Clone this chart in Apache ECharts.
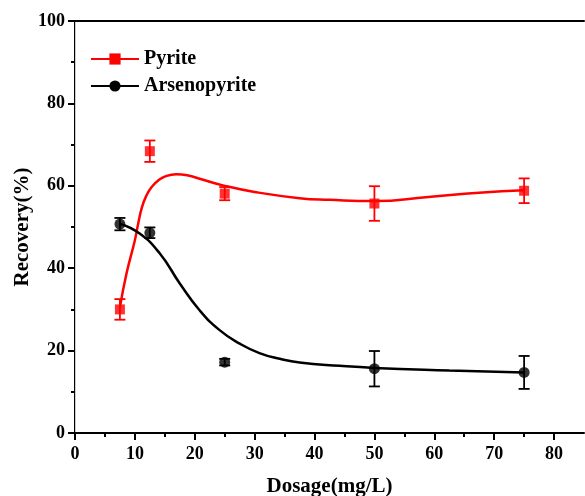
<!DOCTYPE html>
<html>
<head>
<meta charset="utf-8">
<script src="https://cdn.jsdelivr.net/npm/echarts@6/dist/echarts.min.js"></script>
<style>
  html, body { margin: 0; padding: 0; background: #fff; }
  #chart { width: 585px; height: 496px; }
</style>
</head>
<body>
<div id="chart"></div>
<script>
// measured points
const dosage = [7.5, 12.5, 25, 50, 75];
const pyrite = [30.0, 68.4, 58.1, 55.7, 58.8];
const pyriteErr = [2.5, 2.6, 1.6, 4.2, 3.0];
const arseno = [50.7, 48.6, 17.2, 15.6, 14.7];
const arsenoErr = [1.5, 1.3, 0.8, 4.3, 4.0];

// fitted curves
const pyriteFitX = [7.5, 8.6, 10.0, 10.55, 11.2, 11.95, 12.8, 13.9, 15.3, 16.9, 18.9, 20.8, 24.7, 30, 37.5, 42.5, 50, 59, 67.5, 75];
const pyriteFitY = [30.5, 38.7, 46.8, 50.8, 54.9, 57.7, 59.7, 61.3, 62.4, 62.8, 62.5, 61.7, 60.1, 58.5, 57.0, 56.6, 56.3, 57.3, 58.3, 58.9];
const arsenoFitX = [7.5, 10.8, 14.2, 17.5, 20.8, 24.2, 27.5, 30.8, 34.2, 37.5, 44.2, 50, 62.5, 75];
const arsenoFitY = [50.8, 48.4, 43.5, 36.3, 29.8, 24.9, 21.7, 19.4, 18.0, 17.1, 16.3, 15.8, 15.2, 14.7];

// axis ticks
const xMajor = [0, 10, 20, 30, 40, 50, 60, 70, 80];
const xMinor = [5, 15, 25, 35, 45, 55, 65, 75];

const font = 'Liberation Serif';

const pairs = (xs, ys) => xs.map((x, i) => [x, ys[i]]);
const errData = (vals, errs) => dosage.map((x, i) => [x, vals[i] - errs[i], vals[i] + errs[i]]);

const errorBars = (color) => (params, api) => {
  const x = api.value(0);
  const lo = api.coord([x, api.value(1)]);
  const hi = api.coord([x, api.value(2)]);
  const w = 5.5;
  const style = { stroke: color, lineWidth: 1.8 };
  return {
    type: 'group',
    children: [
      { type: 'line', shape: { x1: lo[0], y1: lo[1], x2: hi[0], y2: hi[1] }, style: style },
      { type: 'line', shape: { x1: hi[0] - w, y1: hi[1], x2: hi[0] + w, y2: hi[1] }, style: style },
      { type: 'line', shape: { x1: lo[0] - w, y1: lo[1], x2: lo[0] + w, y2: lo[1] }, style: style }
    ]
  };
};

const myChart = echarts.init(document.getElementById('chart'));

const option = {
  animation: false,
  grid: { left: 75, right: 1, top: 21, bottom: 63, outerBoundsMode: 'none' },
  legend: {
    data: ['Pyrite', 'Arsenopyrite'],
    orient: 'vertical',
    left: 90,
    top: 49,
    padding: 0,
    itemWidth: 48,
    itemHeight: 14,
    itemGap: 7,
    textStyle: { fontFamily: font, fontWeight: 'bold', fontSize: 20, color: '#000' }
  },
  xAxis: [
    {
      type: 'value', min: 0, max: 85, position: 'bottom',
      name: 'Dosage(mg/L)', nameLocation: 'middle', nameGap: 43, nameMoveOverlap: false,
      nameTextStyle: { fontFamily: font, fontWeight: 'bold', fontSize: 21, color: '#000' },
      axisLine: { lineStyle: { color: '#000', width: 2 } },
      axisTick: { customValues: xMajor, length: 7, lineStyle: { color: '#000', width: 2 } },
      axisLabel: { customValues: xMajor, margin: 12, fontFamily: font, fontWeight: 'bold', fontSize: 18, color: '#000' },
      splitLine: { show: false }
    },
    {
      type: 'value', min: 0, max: 85, position: 'bottom',
      axisLine: { show: false },
      axisTick: { customValues: xMinor, length: 4, lineStyle: { color: '#000', width: 2 } },
      axisLabel: { show: false },
      splitLine: { show: false }
    },
    {
      type: 'value', min: 0, max: 85, position: 'top',
      axisLine: { lineStyle: { color: '#000', width: 2 } },
      axisTick: { show: false },
      axisLabel: { show: false },
      splitLine: { show: false }
    }
  ],
  yAxis: [
    {
      type: 'value', min: 0, max: 100, interval: 20,
      name: 'Recovery(%)', nameLocation: 'middle', nameGap: 42, nameMoveOverlap: false,
      nameTextStyle: { fontFamily: font, fontWeight: 'bold', fontSize: 21, color: '#000' },
      axisLine: { show: true, lineStyle: { color: '#000', width: 2 } },
      axisTick: { show: true, length: 7, lineStyle: { color: '#000', width: 2 } },
      minorTick: { show: true, splitNumber: 2, length: 4, lineStyle: { color: '#000', width: 2 } },
      axisLabel: { margin: 10, fontFamily: font, fontWeight: 'bold', fontSize: 18, color: '#000' },
      splitLine: { show: false }
    },
    {
      type: 'value', min: 0, max: 100, position: 'right',
      axisLine: { show: true, lineStyle: { color: '#ccc', width: 1 } },
      axisTick: { show: false },
      axisLabel: { show: false },
      splitLine: { show: false }
    }
  ],
  series: [
    {
      name: 'Pyrite', type: 'line', data: pairs(pyriteFitX, pyriteFitY),
      smooth: 0.5, showSymbol: false, symbol: 'rect', symbolSize: 10,
      lineStyle: { color: '#ff0000', width: 2.5 }, itemStyle: { color: '#ff0000' }, z: 2
    },
    {
      name: 'Arsenopyrite', type: 'line', data: pairs(arsenoFitX, arsenoFitY),
      smooth: 0.5, showSymbol: false, symbol: 'circle', symbolSize: 11,
      lineStyle: { color: '#000', width: 2.5 }, itemStyle: { color: '#000' }, z: 2
    },
    {
      name: 'Pyrite', type: 'scatter', data: pairs(dosage, pyrite),
      symbol: 'rect', symbolSize: 10, itemStyle: { color: '#ff0000' }, z: 4
    },
    {
      name: 'Arsenopyrite', type: 'scatter', data: pairs(dosage, arseno),
      symbol: 'circle', symbolSize: 11, itemStyle: { color: '#000' }, z: 4
    },
    {
      name: 'Pyrite', type: 'custom', data: errData(pyrite, pyriteErr),
      renderItem: errorBars('#ff0000'), encode: { x: 0, y: [1, 2] }, z: 3
    },
    {
      name: 'Arsenopyrite', type: 'custom', data: errData(arseno, arsenoErr),
      renderItem: errorBars('#000'), encode: { x: 0, y: [1, 2] }, z: 3
    }
  ]
};
option && myChart.setOption(option);
</script>
</body>
</html>
